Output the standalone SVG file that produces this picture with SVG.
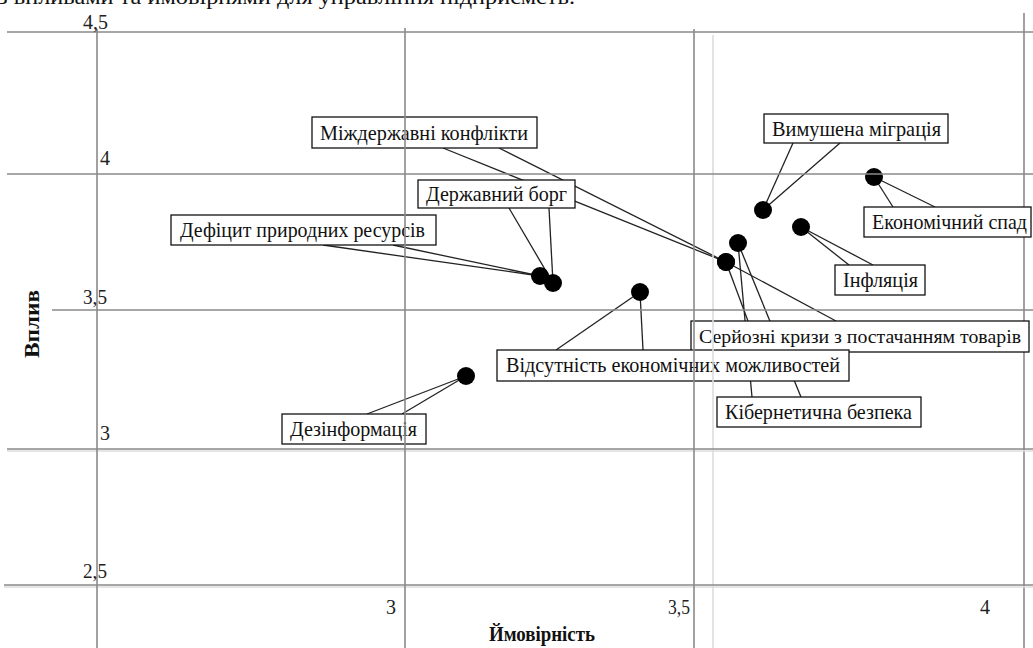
<svg xmlns="http://www.w3.org/2000/svg" width="1033" height="648" viewBox="0 0 1033 648" font-family="'Liberation Serif','DejaVu Serif','Times New Roman',serif">
<style>
text{font-family:'Liberation Serif','DejaVu Serif','Times New Roman',serif;fill:#111}
.lbl{font-size:21px}
.tick{font-size:20px;fill:#222}
.title{font-size:21px;font-weight:bold}
.box{fill:#fff;stroke:#111;stroke-width:1.3}
.grid{stroke:#8a8a8a;stroke-width:1.6;fill:none}
.gridl{stroke:#dcdcdc;stroke-width:1.6;fill:none}
.con line{stroke:#222;stroke-width:1.3}
.pt{fill:#000}
</style>
<rect width="1033" height="648" fill="#fff"/>
<text x="-2" y="4" font-size="21" textLength="577" lengthAdjust="spacingAndGlyphs">з впливами та ймовірнями для управління підприємств.</text>

<g id="grid-back">
<line class="grid" x1="1024" y1="13" x2="1024" y2="648"/>
</g>

<g id="connectors" class="con">
<line x1="443" y1="148" x2="726" y2="262"/><line x1="499" y1="148" x2="726" y2="262"/>
<line x1="509" y1="208" x2="553" y2="283"/><line x1="549" y1="208" x2="553" y2="283"/>
<line x1="323" y1="245" x2="540" y2="276"/><line x1="393" y1="245" x2="540" y2="276"/>
<line x1="793" y1="143" x2="763" y2="210"/><line x1="840" y1="143" x2="763" y2="210"/>
<line x1="893" y1="207" x2="874" y2="177"/><line x1="935" y1="207" x2="874" y2="177"/>
<line x1="849" y1="265" x2="801" y2="227"/><line x1="873" y1="265" x2="801" y2="227"/>
<line x1="748" y1="321" x2="726" y2="262"/><line x1="836" y1="321" x2="726" y2="262"/>
<line x1="556" y1="350" x2="640" y2="292"/><line x1="643" y1="350" x2="640" y2="292"/>
<line x1="752" y1="397" x2="738" y2="243"/><line x1="801" y1="397" x2="738" y2="243"/>
<line x1="367" y1="414" x2="466" y2="376"/><line x1="402" y1="414" x2="466" y2="376"/>
</g>

<g id="node-mizhderzhavni">
<circle class="pt" cx="726" cy="262" r="9"/>
<rect class="box" x="312" y="117" width="225" height="31"/>
<text class="lbl" x="320" y="140" textLength="208" lengthAdjust="spacingAndGlyphs">Міждержавні конфлікти</text>
</g>
<g id="node-borg">
<circle class="pt" cx="553" cy="283" r="9"/>
<rect class="box" x="418" y="180" width="157" height="28"/>
<text class="lbl" x="426" y="201" textLength="141" lengthAdjust="spacingAndGlyphs">Державний борг</text>
</g>
<g id="node-resursy">
<circle class="pt" cx="540" cy="276" r="9"/>
<rect class="box" x="171" y="215" width="265" height="30"/>
<text class="lbl" x="180" y="237" textLength="245" lengthAdjust="spacingAndGlyphs">Дефіцит природних ресурсів</text>
</g>
<g id="node-migratsiia">
<circle class="pt" cx="763" cy="210" r="9"/>
<rect class="box" x="764" y="114" width="184" height="29"/>
<text class="lbl" x="772" y="136" textLength="169" lengthAdjust="spacingAndGlyphs">Вимушена міграція</text>
</g>
<g id="node-spad">
<circle class="pt" cx="874" cy="177" r="9"/>
<rect class="box" x="864" y="207" width="167" height="30"/>
<text class="lbl" x="872" y="229" textLength="155" lengthAdjust="spacingAndGlyphs">Економічний спад</text>
</g>
<g id="node-infliatsiia">
<circle class="pt" cx="801" cy="227" r="9"/>
<rect class="box" x="835" y="265" width="90" height="30"/>
<text class="lbl" x="843" y="287" textLength="75" lengthAdjust="spacingAndGlyphs">Інфляція</text>
</g>
<g id="node-kryzy">
<circle class="pt" cx="726" cy="262" r="9"/>
<rect class="box" x="691" y="321" width="338" height="31"/>
<text class="lbl" x="699" y="343" style="font-size:19px" textLength="322" lengthAdjust="spacingAndGlyphs">Серйозні кризи з постачанням товарів</text>
</g>
<g id="node-mozhlyvosti">
<circle class="pt" cx="640" cy="292" r="9"/>
<rect class="box" x="497" y="350" width="352" height="31"/>
<text class="lbl" x="506" y="372" textLength="334" lengthAdjust="spacingAndGlyphs">Відсутність економічних можливостей</text>
</g>
<g id="node-kiberbezpeka">
<circle class="pt" cx="738" cy="243" r="9"/>
<rect class="box" x="717" y="397" width="204" height="30"/>
<text class="lbl" x="725" y="419" textLength="187" lengthAdjust="spacingAndGlyphs">Кібернетична безпека</text>
</g>
<g id="node-dezinformatsiia">
<circle class="pt" cx="466" cy="376" r="9"/>
<rect class="box" x="282" y="414" width="144" height="30"/>
<text class="lbl" x="290" y="436" textLength="127" lengthAdjust="spacingAndGlyphs">Дезінформація</text>
</g>

<g id="grid">
<line class="gridl" x1="713" y1="35" x2="713" y2="648"/>
<line class="gridl" x1="7" y1="451" x2="1033" y2="451"/>
<line class="gridl" x1="4" y1="587" x2="1033" y2="587"/>
<line class="grid" x1="7" y1="32" x2="1033" y2="32"/>
<line class="grid" x1="7" y1="174" x2="1033" y2="174"/>
<line class="grid" x1="52" y1="310" x2="1033" y2="310"/>
<line class="grid" x1="7" y1="449" x2="1033" y2="449"/>
<line class="grid" x1="4" y1="585" x2="1033" y2="585"/>
<line class="grid" x1="97" y1="29" x2="97" y2="648"/>
<line class="grid" x1="405" y1="28" x2="405" y2="648"/>
<line class="grid" x1="694" y1="29" x2="694" y2="648"/>
</g>

<g id="axis-labels">
<text class="tick" x="83" y="29" textLength="25" lengthAdjust="spacingAndGlyphs">4,5</text>
<text class="tick" x="100" y="165">4</text>
<text class="tick" x="83" y="304" textLength="24" lengthAdjust="spacingAndGlyphs">3,5</text>
<text class="tick" x="100" y="440">3</text>
<text class="tick" x="83" y="578" textLength="24" lengthAdjust="spacingAndGlyphs">2,5</text>
<text class="tick" x="386" y="614">3</text>
<text class="tick" x="668" y="614" textLength="22" lengthAdjust="spacingAndGlyphs">3,5</text>
<text class="tick" x="980" y="614">4</text>
<text class="title" x="489" y="641" textLength="106" lengthAdjust="spacingAndGlyphs">Ймовірність</text>
<text class="title" transform="translate(39 358) rotate(-90)" textLength="68" lengthAdjust="spacingAndGlyphs">Вплив</text>
</g>
</svg>
